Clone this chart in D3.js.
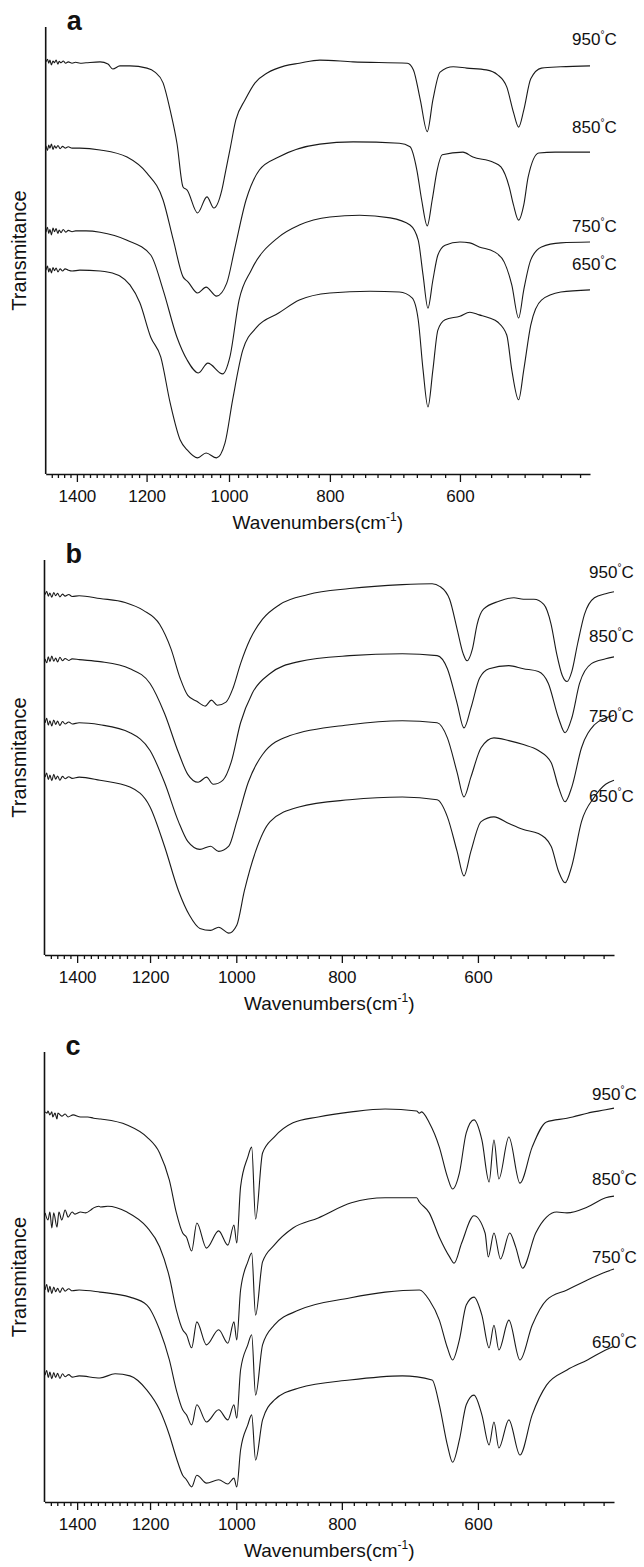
<!DOCTYPE html>
<html>
<head>
<meta charset="utf-8">
<script src="https://cdn.jsdelivr.net/npm/d3@7"></script>
<style>
  body { margin: 0; background: #fff; }
  svg { display: block; }
  text { font-family: Arial, "Liberation Sans", sans-serif; fill: #111; }
</style>
</head>
<body>
<svg width="644" height="1567"></svg>
<script>
// ---- data: [wavenumber (cm-1), transmittance (a.u.)] ----
const temps = ["950", "850", "750", "650"];
const majorTicks = [1400, 1200, 1000, 800, 600];
const wnDomain = [1500, 450];

// panel a
const a950 = [[1499,92.2],[1494,92.8],[1490,91.9],[1486,92.6],[1481,91.5],[1476,92.4],[1471,92.0],[1466,92.6],[1460,91.7],[1456,92.3],[1450,92.0],[1443,92.4],[1435,91.9],[1427,92.2],[1415,91.9],[1404,92.1],[1390,91.9],[1372,92.0],[1330,92.2],[1307,91.7],[1293,90.6],[1273,91.3],[1245,91.3],[1199,90.8],[1178,89.9],[1157,87.5],[1139,81.4],[1122,74.0],[1107,64.2],[1097,63.5],[1072,58.4],[1050,62.0],[1034,59.5],[1016,63.5],[1007,68.0],[998,72.5],[985,79.2],[965,83.7],[944,87.5],[919,89.7],[884,91.3],[856,91.9],[818,92.6],[760,92.2],[674,91.9],[665,90.4],[655,83.7],[645,76.6],[637,83.7],[627,89.9],[609,91.1],[591,90.8],[566,90.4],[552,89.3],[541,86.6],[533,80.9],[527,77.6],[521,81.4],[513,88.4],[501,90.8],[480,91.1],[450,91.3]];
const a850 = [[1499,73.4],[1494,72.4],[1490,73.6],[1486,72.9],[1481,73.8],[1476,72.6],[1471,73.4],[1466,72.9],[1460,73.5],[1453,72.8],[1445,73.3],[1437,72.9],[1427,73.2],[1415,72.9],[1391,72.9],[1330,72.5],[1253,70.9],[1199,67.3],[1157,61.3],[1131,52.3],[1107,44.1],[1095,43.0],[1072,40.5],[1052,41.8],[1028,39.8],[1005,42.7],[988,50.1],[963,61.3],[935,68.0],[896,70.9],[818,73.8],[760,74.3],[686,74.0],[670,73.2],[660,68.0],[653,61.3],[645,55.5],[638,61.3],[631,68.0],[624,71.4],[596,72.0],[583,70.9],[558,69.8],[548,68.7],[538,64.2],[533,60.2],[527,56.8],[521,60.2],[516,66.4],[504,71.8],[486,72.0],[450,72.0]];
const a750 = [[1499,54.1],[1494,55.2],[1490,53.8],[1486,54.7],[1481,53.5],[1476,55.0],[1471,54.2],[1466,54.9],[1460,53.8],[1456,54.6],[1450,54.0],[1443,54.7],[1435,54.1],[1427,54.5],[1415,54.2],[1404,54.4],[1372,54.4],[1330,54.1],[1253,52.3],[1189,49.0],[1157,41.2],[1122,30.6],[1097,25.5],[1070,22.6],[1048,24.8],[1014,22.4],[998,26.2],[978,38.9],[952,45.6],[896,53.0],[856,55.7],[800,57.5],[749,57.9],[700,57.3],[670,55.7],[658,52.3],[651,44.5],[644,37.1],[637,43.4],[630,49.0],[620,51.2],[600,51.9],[587,51.7],[575,50.8],[556,49.7],[544,47.4],[535,42.3],[527,34.9],[521,41.2],[513,47.9],[501,50.8],[480,51.7],[450,51.9]];
const a650 = [[1499,45.6],[1494,46.5],[1490,45.2],[1486,46.0],[1481,45.0],[1476,46.2],[1471,45.5],[1466,46.1],[1460,45.2],[1453,45.9],[1445,45.4],[1437,45.9],[1427,45.6],[1415,45.4],[1391,45.6],[1330,45.4],[1285,44.7],[1273,44.3],[1245,42.3],[1218,38.3],[1189,30.6],[1163,26.2],[1139,15.9],[1114,7.6],[1097,5.4],[1072,3.6],[1052,4.7],[1028,3.6],[1009,6.9],[992,16.6],[970,27.7],[940,32.9],[896,36.0],[856,38.9],[800,40.5],[732,40.9],[686,40.7],[667,39.4],[658,34.5],[651,23.3],[644,15.0],[637,23.3],[630,32.2],[620,34.5],[600,35.3],[587,36.2],[575,35.6],[562,34.9],[552,34.0],[541,31.1],[535,23.3],[527,16.6],[521,23.3],[513,33.3],[501,38.9],[480,40.7],[450,41.2]];

// panel b
const b950 = [[1498,90.8],[1493,91.6],[1488,90.4],[1483,91.2],[1477,90.1],[1471,91.3],[1465,90.5],[1459,91.1],[1452,90.2],[1444,90.9],[1436,90.4],[1425,90.8],[1415,90.3],[1394,90.5],[1334,89.8],[1265,88.8],[1217,86.8],[1176,83.3],[1148,77.1],[1126,69.7],[1108,65.4],[1087,63.9],[1068,62.7],[1054,64.2],[1041,62.9],[1022,63.7],[1007,67.2],[991,73.4],[971,79.6],[946,84.6],[912,88.3],[859,90.8],[787,92.3],[704,93.3],[661,93.5],[650,92.8],[637,89.6],[627,82.1],[619,75.9],[614,74.1],[607,77.1],[601,83.3],[593,87.1],[574,89.1],[556,90.0],[545,89.6],[533,89.6],[522,88.3],[514,83.3],[508,75.9],[502,70.4],[497,68.9],[492,71.4],[486,78.4],[479,85.8],[469,90.0],[458,91.0],[450,91.5]];
const b850 = [[1498,74.6],[1493,73.6],[1488,75.1],[1483,73.9],[1477,75.3],[1471,74.0],[1465,74.8],[1459,73.8],[1452,75.0],[1444,74.1],[1436,74.7],[1425,74.2],[1415,74.6],[1394,74.4],[1334,73.9],[1252,72.1],[1200,68.4],[1164,60.9],[1130,51.0],[1108,45.5],[1084,43.5],[1065,44.8],[1050,43.0],[1029,44.0],[1011,48.5],[991,58.5],[967,65.9],[931,70.9],[876,73.9],[787,75.4],[704,75.9],[654,75.4],[640,72.1],[627,63.4],[618,57.2],[609,62.2],[598,69.7],[586,72.1],[562,72.9],[545,72.1],[528,71.4],[517,68.4],[506,59.7],[499,56.0],[492,59.7],[484,68.4],[472,73.4],[458,74.6],[450,75.1]];
const b750 = [[1498,58.5],[1493,59.6],[1488,57.9],[1483,59.0],[1477,57.7],[1471,59.2],[1465,58.1],[1459,58.9],[1452,57.8],[1444,58.8],[1436,58.2],[1425,58.7],[1415,58.2],[1394,58.5],[1334,58.0],[1252,56.0],[1200,51.5],[1164,43.5],[1130,33.6],[1108,28.6],[1080,26.6],[1056,27.4],[1038,26.1],[1016,27.4],[999,33.6],[975,43.5],[946,50.5],[894,55.2],[787,58.0],[704,59.0],[654,58.5],[640,54.7],[627,46.0],[618,39.8],[609,44.8],[596,52.2],[580,54.7],[562,54.0],[545,53.0],[528,51.5],[514,48.5],[506,42.3],[499,38.6],[492,42.3],[482,52.2],[469,58.0],[458,59.7],[450,60.4]];
const b650 = [[1498,44.8],[1493,45.8],[1488,44.2],[1483,45.3],[1477,43.9],[1471,45.5],[1465,44.3],[1459,45.1],[1452,44.0],[1444,45.0],[1436,44.4],[1425,44.9],[1415,44.5],[1394,44.8],[1334,44.0],[1252,42.3],[1200,37.3],[1164,27.4],[1130,16.2],[1104,10.0],[1080,6.7],[1056,6.2],[1038,7.0],[1016,5.5],[999,7.5],[983,16.2],[960,26.1],[931,33.6],[876,37.3],[787,39.1],[704,39.8],[654,39.1],[640,34.8],[627,26.1],[618,19.9],[609,26.1],[596,33.6],[580,34.8],[562,33.1],[545,31.6],[528,30.6],[514,27.4],[506,21.1],[499,18.2],[492,22.4],[482,33.6],[469,39.8],[458,43.0],[450,44.0]];

// panel c
const c950 = [[1498,93.1],[1492,92.8],[1489,93.3],[1483,92.4],[1477,93.1],[1474,91.9],[1467,92.8],[1461,91.4],[1458,92.8],[1446,92.1],[1436,92.6],[1427,91.9],[1412,92.4],[1390,91.9],[1369,91.9],[1352,91.6],[1332,91.4],[1260,90.0],[1208,87.1],[1176,83.3],[1152,76.8],[1135,69.0],[1120,64.2],[1111,63.2],[1099,59.9],[1087,66.6],[1065,60.6],[1038,64.7],[1018,61.3],[1005,66.1],[999,61.8],[991,75.2],[976,82.3],[968,84.7],[960,67.5],[946,83.3],[923,87.1],[887,90.5],[841,91.9],[784,93.1],[730,93.8],[683,93.3],[679,92.8],[676,93.1],[665,90.5],[651,84.7],[640,77.6],[633,74.7],[624,78.5],[615,88.1],[605,91.2],[595,86.4],[586,76.4],[580,86.4],[574,77.1],[562,87.1],[549,76.1],[535,84.7],[519,90.7],[497,91.6],[491,91.9],[476,92.8],[458,93.6],[450,94.0]];
const c850 = [[1498,69.0],[1489,67.3],[1483,69.2],[1477,65.4],[1471,69.0],[1461,65.6],[1455,69.2],[1446,67.3],[1436,69.7],[1427,68.0],[1415,69.2],[1406,68.7],[1390,69.2],[1375,69.0],[1360,69.7],[1352,70.2],[1337,70.6],[1332,70.4],[1312,70.6],[1260,69.2],[1208,65.6],[1176,60.9],[1152,53.7],[1135,45.8],[1120,41.1],[1111,39.9],[1099,36.8],[1087,43.0],[1065,37.5],[1038,41.1],[1018,37.9],[1005,43.0],[999,38.7],[991,50.6],[976,57.3],[968,59.4],[960,44.6],[946,57.3],[923,61.3],[887,65.4],[841,67.8],[784,71.4],[730,72.6],[683,72.6],[679,71.6],[665,69.0],[651,63.2],[637,58.5],[631,57.0],[621,61.8],[605,68.3],[591,64.2],[587,58.5],[580,64.2],[572,58.0],[561,64.2],[554,60.9],[546,55.8],[531,64.2],[519,68.0],[508,69.2],[497,69.0],[476,70.4],[458,72.6],[450,73.0]];
const c750 = [[1498,50.6],[1493,51.9],[1488,50.1],[1483,51.5],[1477,49.8],[1471,51.3],[1465,50.2],[1459,51.0],[1452,50.0],[1444,51.1],[1436,50.3],[1425,50.9],[1415,50.4],[1394,50.6],[1334,50.1],[1252,48.9],[1208,47.0],[1176,41.1],[1152,33.9],[1135,26.7],[1120,22.0],[1111,20.8],[1099,18.4],[1087,23.2],[1065,19.1],[1038,22.0],[1018,19.6],[1005,23.2],[999,20.0],[991,31.5],[976,37.5],[968,39.9],[960,25.5],[946,37.5],[923,42.2],[876,45.8],[787,48.7],[730,50.1],[679,50.6],[665,48.2],[651,43.4],[640,36.8],[633,33.9],[624,38.7],[615,47.0],[605,48.9],[595,44.6],[586,36.8],[580,42.2],[574,36.3],[562,43.4],[549,33.9],[535,42.2],[519,48.2],[497,50.6],[476,53.0],[458,54.9],[450,55.6]];
const c650 = [[1498,30.3],[1493,31.4],[1488,29.7],[1483,31.0],[1477,29.4],[1471,30.9],[1465,29.7],[1459,30.7],[1452,29.5],[1444,30.6],[1436,29.9],[1425,30.4],[1415,29.8],[1394,30.1],[1334,29.6],[1292,30.6],[1252,30.1],[1208,26.7],[1176,22.0],[1152,16.0],[1135,10.5],[1120,6.4],[1111,5.3],[1099,3.6],[1087,6.4],[1065,4.5],[1038,5.3],[1018,4.3],[1005,5.7],[999,3.6],[991,12.4],[976,18.4],[968,20.8],[960,10.0],[946,19.6],[923,24.3],[876,27.2],[787,29.1],[704,30.1],[661,29.1],[651,23.2],[640,13.6],[633,9.5],[624,14.8],[615,23.2],[605,25.5],[595,20.8],[586,13.6],[580,19.1],[574,12.9],[562,19.6],[549,11.2],[535,20.8],[519,27.9],[497,31.5],[476,33.9],[458,36.3],[450,37.2]];

// ---- layout ----
// plotTop/bottom fix the 0..100 transmittance range, axisTop is where the y line starts
const panels = [
  {id: "a", series: [a950, a850, a750, a650], left: 45.7, right: 590, plotTop: 27, axisTop: 27, bottom: 474,
   labelX: 572, labelY: [45, 133, 232, 270]},
  {id: "b", series: [b950, b850, b750, b650], left: 44.5, right: 614, plotTop: 558, axisTop: 560, bottom: 955,
   labelX: 589, labelY: [578, 642, 722, 802]},
  {id: "c", series: [c950, c850, c750, c650], left: 44.5, right: 614, plotTop: 1083, axisTop: 1052, bottom: 1502,
   labelX: 592, labelY: [1100, 1185, 1263, 1348]}
];

const svg = d3.select("svg");

panels.forEach(p => {
  const g = svg.append("g").attr("class", "panel-" + p.id);

  const x = d3.scaleLog().domain(wnDomain).range([p.left, p.right]);
  const y = d3.scaleLinear().domain([0, 100]).range([p.bottom, p.plotTop]);

  // minor ticks every 20 cm-1
  const minor = d3.range(1480, 455, -20).filter(v => !majorTicks.includes(v));
  g.append("g")
    .attr("transform", `translate(0,${p.bottom})`)
    .call(d3.axisBottom(x).tickValues(minor).tickSize(4).tickFormat(""))
    .call(a => a.select(".domain").remove())
    .selectAll("line").attr("stroke", "#111").attr("stroke-width", 1.3);

  const xAxis = g.append("g")
    .attr("transform", `translate(0,${p.bottom})`)
    .call(d3.axisBottom(x).tickValues(majorTicks).tickSize(8).tickSizeOuter(0)
      .tickPadding(8).tickFormat(d3.format("d")));
  xAxis.select(".domain").attr("stroke", "#111").attr("stroke-width", 1.6);
  xAxis.selectAll("line").attr("stroke", "#111").attr("stroke-width", 1.3);
  xAxis.selectAll("text")
    .attr("font-size", 17).attr("fill", "#111")
    .style("font-family", "Arial, 'Liberation Sans', sans-serif");

  // y axis: plain line, no ticks
  g.append("line")
    .attr("x1", p.left).attr("x2", p.left)
    .attr("y1", p.axisTop).attr("y2", p.bottom)
    .attr("stroke", "#111").attr("stroke-width", 1.6);

  // spectra
  const line = d3.line()
    .x(d => x(d[0]))
    .y(d => y(d[1]))
    .curve(d3.curveMonotoneX);

  g.selectAll("path.spec")
    .data(p.series)
    .join("path")
    .attr("class", "spec")
    .attr("d", line)
    .attr("fill", "none")
    .attr("stroke", "#1a1a1a")
    .attr("stroke-width", 1.1);

  // temperature labels
  temps.forEach((t, i) => {
    const lab = g.append("text")
      .attr("x", p.labelX).attr("y", p.labelY[i])
      .attr("font-size", 17);
    lab.append("tspan").text(t);
    lab.append("tspan").attr("font-size", 10).attr("dy", -7).text("°");
    lab.append("tspan").attr("dy", 7).text("C");
  });

  // panel letter
  g.append("text")
    .attr("x", p.left + 21).attr("y", p.axisTop + 3)
    .attr("font-size", 27).attr("font-weight", "bold")
    .text(p.id);

  // y title
  g.append("text")
    .attr("transform", `translate(26,${(p.axisTop + p.bottom) / 2}) rotate(-90)`)
    .attr("text-anchor", "middle")
    .attr("font-size", 20)
    .text("Transmitance");

  // x title
  const xt = g.append("text")
    .attr("x", (p.left + p.right) / 2)
    .attr("y", p.bottom + 55)
    .attr("text-anchor", "middle")
    .attr("font-size", 19);
  xt.append("tspan").text("Wavenumbers(cm");
  xt.append("tspan").attr("font-size", 12).attr("dy", -8).text("-1");
  xt.append("tspan").attr("dy", 8).text(")");
});
</script>
</body>
</html>
